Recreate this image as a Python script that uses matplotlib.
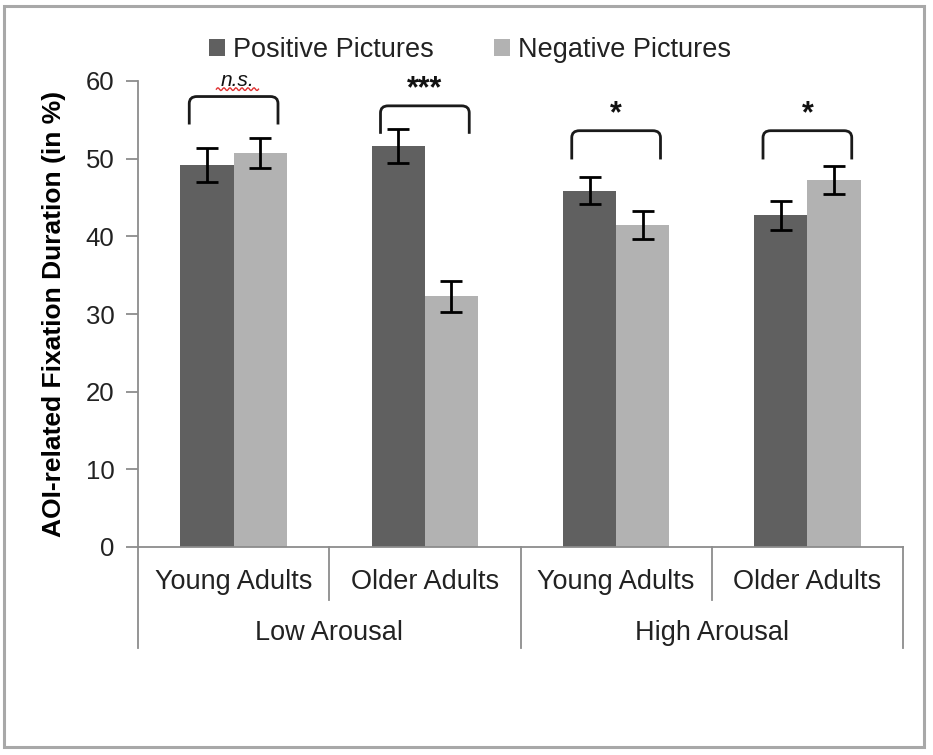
import matplotlib
matplotlib.use("Agg")
import matplotlib.pyplot as plt
import matplotlib.patches as mpatches
import matplotlib.transforms as mtrans
from matplotlib.path import Path
import numpy as np

# ---- data ----
categories = ["Young Adults", "Older Adults", "Young Adults", "Older Adults"]
groups = ["Low Arousal", "High Arousal"]
series_names = ["Positive Pictures", "Negative Pictures"]
positive = [49.2, 51.6, 45.9, 42.7]
negative = [50.7, 32.3, 41.5, 47.2]
positive_err = [2.2, 2.2, 1.8, 1.9]
negative_err = [1.9, 2.0, 1.8, 1.8]
sig_labels = ["n.s.", "***", "*", "*"]
bracket_top = [58.0, 56.8, 53.6, 53.6]
bracket_end = [54.4, 53.2, 49.9, 49.9]
yticks = [0, 10, 20, 30, 40, 50, 60]

# ---- style ----
dark = "#606060"
light = "#b2b2b2"
axis_gray = "#8c8c8c"
plt.rcParams["font.family"] = ["Liberation Sans", "DejaVu Sans"]

W, H = 933, 755
fig = plt.figure(figsize=(W / 100, H / 100), dpi=100)
fig.patch.set_facecolor("white")

# outer frame
frame = mpatches.Rectangle((4 / W, 1 - 747 / H), 920 / W, 741 / H,
                           transform=fig.transFigure, fill=False,
                           edgecolor="#a8a8a8", linewidth=2.2, zorder=0)
fig.patches.append(frame)

left_px, right_px, top_px, bot_px = 138, 903, 81, 547
ax = fig.add_axes([left_px / W, 1 - bot_px / H,
                   (right_px - left_px) / W, (bot_px - top_px) / H])

x = np.arange(len(categories))
bw = 0.278
ax.bar(x - bw / 2, positive, bw, color=dark, label=series_names[0], zorder=2)
ax.bar(x + bw / 2, negative, bw, color=light, label=series_names[1], zorder=2)
ek = dict(fmt="none", ecolor="black", elinewidth=2.0, capsize=8, capthick=2.0, zorder=3)
ax.errorbar(x - bw / 2, positive, yerr=positive_err, **ek)
ax.errorbar(x + bw / 2, negative, yerr=negative_err, **ek)

ax.set_xlim(-0.5, len(categories) - 0.5)
ax.set_ylim(0, 60)
ax.set_yticks(yticks)
ax.tick_params(axis="y", direction="out", length=9, width=1.3, color=axis_gray,
               labelsize=18.5, pad=8, labelcolor="#222222")
ax.set_xticks([])
for s in ["top", "right"]:
    ax.spines[s].set_visible(False)
for s in ["left", "bottom"]:
    ax.spines[s].set_color(axis_gray)
    ax.spines[s].set_linewidth(1.3)

ax.set_ylabel("AOI-related Fixation Duration (in %)", fontsize=19,
              fontweight="bold", labelpad=14)

# brackets with significance labels
half = 0.232
r = 0.9  # rounding in data-y units
for i in range(len(categories)):
    x0, x1 = x[i] - half, x[i] + half
    t, e = bracket_top[i], bracket_end[i]
    dx = 0.04
    verts = [(x0, e), (x0, t - r), (x0, t), (x0 + dx, t), (x1 - dx, t),
             (x1, t), (x1, t - r), (x1, e)]
    codes = [Path.MOVETO, Path.LINETO, Path.CURVE3, Path.CURVE3, Path.LINETO,
             Path.CURVE3, Path.CURVE3, Path.LINETO]
    ax.add_patch(mpatches.PathPatch(Path(verts, codes), fill=False,
                                    edgecolor="#1a1a1a", linewidth=2.0,
                                    clip_on=False, zorder=4))
    if sig_labels[i] == "n.s.":
        ax.text(x[i] + 0.02, t + 0.9, sig_labels[i], ha="center", va="bottom",
                fontsize=15, fontstyle="italic", color="#111111", clip_on=False)
        # spell-check squiggle
        xs = np.linspace(x[i] - 0.09, x[i] + 0.13, 40)
        ys = t + 0.95 + 0.18 * np.sin(np.linspace(0, 14 * np.pi, 40))
        ax.plot(xs, ys, color="#e03030", linewidth=1.0, clip_on=False, zorder=5)
    else:
        ax.text(x[i], t + 0.2, sig_labels[i], ha="center", va="bottom",
                fontsize=22, fontweight="bold", color="#111111", clip_on=False)

# multi-level category axis
trans = mtrans.blended_transform_factory(ax.transData, ax.transAxes)
axh = bot_px - top_px
y_cat_line = -(600 - bot_px) / axh
y_grp_line = -(648 - bot_px) / axh
for b in [0.5, 2.5]:
    ax.plot([b, b], [0, y_cat_line], transform=trans, color=axis_gray,
            linewidth=1.3, clip_on=False)
for b in [-0.5, 1.5, 3.5]:
    ax.plot([b, b], [0, y_grp_line], transform=trans, color=axis_gray,
            linewidth=1.3, clip_on=False)
for i, c in enumerate(categories):
    ax.text(x[i], -(582 - bot_px) / axh, c, transform=trans, ha="center",
            va="center", fontsize=19.5, color="#222222")
for g, name in enumerate(groups):
    ax.text(2 * g + 0.5, -(633 - bot_px) / axh, name, transform=trans,
            ha="center", va="center", fontsize=19.5, color="#222222")

# legend
leg = fig.legend(loc="center", bbox_to_anchor=(470 / W, 1 - 50 / H), ncol=2,
                 frameon=False, fontsize=19.5, handlelength=0.6, handleheight=0.6,
                 handletextpad=0.3, columnspacing=2.2, labelcolor="#222222")

fig.savefig("out.png", dpi=100, facecolor="white")
